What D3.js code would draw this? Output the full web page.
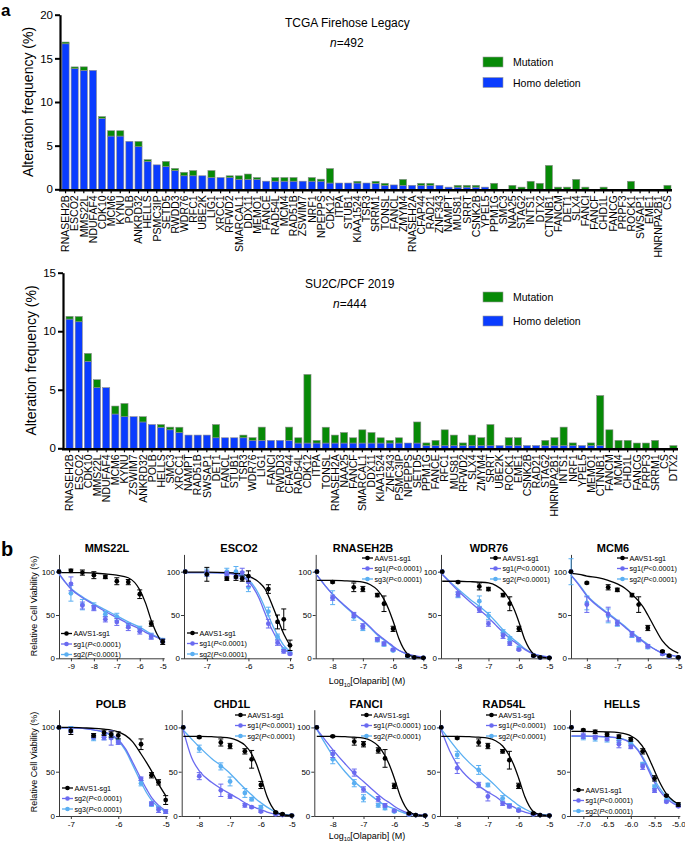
<!DOCTYPE html>
<html><head><meta charset="utf-8">
<script src="https://cdn.jsdelivr.net/npm/d3@7"></script>
<style>body{margin:0;background:#fff}svg{display:block}text{font-family:'Liberation Sans',Arial,Helvetica,sans-serif}</style>
</head><body><svg id="c" width="685" height="841"></svg>
<script>
// ---------------- Panel a data ----------------
const tcgaGenes = ["RNASEH2B","ESCO2","MMS22L","NDUFAF4","CDK10","MCM6","KYNU","POLB","ANKRD32","HELLS","PSMC3IP","SETD5","RWDD3","WDR76","RFC1","UBE2K","LIG1","XRCC1","RFWD2","SMARCAL1","DDX11","MEMO1","FANCE","RAD54L","MCM4","RAD51B","ZSWIM7","NRF1","NPEPPS","CDK12","ITPA","STUB1","KIAA1524","TSR3","SRRM1","TONSL","FANCL","ZMYM4","RNASEH2A","CFAP44","RAD21","ZNF343","NAMPT","MUS81","SRRT","CSNK2B","YPEL5","PPM1G","SMC3","NAA25","STAG2","INTS1","DTX2","CTNNB1","FANCM","DET1","SLX4","FANCI","FANCF","CHD1L","FANCG","PRPF3","ROCK1","SWSAP1","EME1","HNRNPA2B1","CS"];
const tcgaDeletion = [16.67,13.82,13.62,13.62,8.13,6.10,6.10,5.49,4.88,3.2,
  2.8,2.6,2.15,1.55,1.55,1.55,1.35,1.35,1.35,1.15,
  1.15,1.15,0.93,0.93,0.93,0.93,0.93,0.93,0.93,0.72,
  0.72,0.72,0.72,0.72,0.69,0.46,0.5,0.46,0.46,0.46,
  0.46,0.46,0.25,0.25,0.25,0.25,0.25,0,0,0,
  0,0,0,0,0,0,0,0,0,0,0,0,0,0,0,0,0];
const tcgaMutation = [0.2,0.2,0.41,0,0.2,0.61,0.61,0,0.61,0.2,
  0,0.6,0.25,0.4,0.6,0,0.8,0,0.2,0.4,
  0.6,0.2,0,0.42,0.42,0.42,0,0.42,0.23,1.66,
  0,0,0.2,0,0.23,0.23,0,0.68,0,0.23,
  0.23,0,0,0.21,0.21,0.21,0,0.69,0,0.46,
  0.25,0.92,0.69,2.74,0.25,0.25,1.14,0.25,0,0.25,
  0,0,0.92,0,0,0,0.46];
const su2cGenes = ["RNASEH2B","ESCO2","CDK10","MMS22L","NDUFAF4","MCM6","KYNU","ZSWIM7","ANKRD32","POLB","HELLS","SMC3","XRCC1","NAMPT","RAD51B","SWSAP1","DET1","FANCL","STUB1","TSR3","WDR76","LIG1","FANCI","RWDD3","CFAP44","RAD54L","CDK12","ITPA","TONSL","RNASEH2A","NAA25","FANCF","SMARCAL1","DDX11","KIAA1524","ZNF343","PSMC3IP","NPEPPS","SETD5","PPM1G","FANCE","RFC1","MUS81","RFWD2","SLX4","ZMYM4","SRRT","UBE2K","ROCK1","EME1","CSNK2B","RAD21","STAG2","HNRNPA2B1","INTS1","NRF1","YPEL5","MEMO1","CTNNB1","FANCM","MCM4","CHD1L","FANCG","PRPF3","SRRM1","CS","DTX2"];
const su2cDeletion = [11.04,10.81,7.43,5.18,5.18,2.93,2.70,2.70,2.25,2.03,
  1.80,1.58,1.35,1.13,1.13,1.13,0.90,0.90,0.90,0.90,
  0.68,0.68,0.68,0.68,0.68,0.45,0.45,0.45,0.45,0.45,
  0.45,0.45,0.45,0.45,0.45,0.45,0.45,0.45,0.45,0.23,
  0.23,0.23,0.23,0.23,0.23,0.23,0.23,0.23,0.23,0.23,
  0.23,0.23,0.23,0.23,0.23,0.23,0.23,0.23,0.23,0,
  0,0,0,0,0,0,0];
const su2cMutation = [0.23,0.45,0.68,0.68,0,0.68,1.13,0,0.45,0,
  0.23,0.23,0.45,0,0,0,1.13,0,0,0.23,
  0.23,1.13,0,0,1.13,0.45,5.86,0.23,1.35,0.68,
  0.90,0.45,1.13,0.90,0.45,0.23,0.45,0,1.80,0.23,
  0.45,1.35,0.90,0.23,0.90,0.68,1.80,0,0.68,0.68,
  0,0,0.45,0.68,1.58,0.23,0,0.23,4.28,1.58,
  0.68,0.68,0.45,0.45,0.68,0,0.23];
const tcgaTicks = [0,5,10,15,20];
const su2cTicks = [0,5,10,15];

// ---------------- Panel b data ----------------
const doseTitles = ["MMS22L","ESCO2","RNASEH2B","WDR76","MCM6","POLB","CHD1L","FANCI","RAD54L","HELLS"];
const sgALabels = ["sg1","sg1","sg1","sg1","sg1","sg2","sg1","sg1","sg1","sg1"];
const sgBLabels = ["sg2","sg2","sg3","sg2","sg2","sg3","sg2","sg2","sg2","sg2"];
const doseX = [
  [-9.52,-9,-8.5,-8,-7.5,-7,-6.5,-6,-5.5,-5],
  [-7.52,-7,-6.52,-6.3,-6.15,-6,-5.52,-5.3,-5.15,-5],
  [-8.52,-8,-7.3,-7,-6.52,-6.3,-6,-5.52,-5.3,-5],
  [-8.52,-8,-7.3,-7,-6.52,-6.3,-6,-5.52,-5.3,-5],
  [-8.52,-8,-7.3,-7,-6.52,-6.3,-6,-5.52,-5.3,-5],
  [-7.25,-7,-6.52,-6.3,-6.15,-6,-5.52,-5.3,-5.15,-5],
  [-8.52,-8,-7.3,-7,-6.52,-6.3,-6,-5.52,-5.3,-5],
  [-8.52,-8,-7.3,-7,-6.52,-6.3,-6,-5.52,-5.3,-5],
  [-8.52,-8,-7.3,-7,-6.52,-6.3,-6,-5.52,-5.3,-5],
  [-7.25,-7,-6.75,-6.5,-6.25,-6,-5.75,-5.5,-5.25,-5]];
const aavsMean = [
  [100,101,99,96,94,89,88,74,40,19],
  [100,97,92,94,92,95,80,42,45,15],
  [100,88,82,80,73,63,34,3,1,0.5],
  [100,88,83,80,73,63,34,3,1,0.5],
  [100,87,82,79,73,62,35,8,3,1],
  [100,96,91,94,92,91,81,46,38,18],
  [100,89,83,79,73,64,35,4,2,0.5],
  [100,90,84,81,74,65,34,3,1,0.5],
  [100,88,83,79,73,63,34,3,1,0.5],
  [100,97,95,92,89.5,86.5,73,42.5,23,13]];
const aavsErr = [
  [0,2,3,4,2,4,3,5,3,3],
  [0,8,2,4,3,6,5,8,12,6],
  [0,1,5,3,2,9,3,1,0.5,0.5],
  [0,1,4,2,2,8,3,1,0.5,0.5],
  [0,1,3,2,2,9,3,1,1,0.5],
  [0,4,2,3,3,4,6,3,3,5],
  [0,1,4,3,3,10,4,1,1,0.5],
  [0,1,4,3,3,10,3,1,0.5,0.5],
  [0,1,4,3,2,10,3,1,0.5,0.5],
  [0,1,2,2,2,2,3,3,1,2]];
const sgAMean = [
  [100,86,61,58,45,42,36,31,25,20],
  [100,98,97,95,99,88,40,18,8,5],
  [100,70,50,37,22,17,10,3,1,0.5],
  [100,74,56,40,26,17,10,3,1,0.5],
  [100,62,51,41,28,22,14,5,2,1],
  [100,97,90,89,88,83,42,14,7,5],
  [100,45,29,22,12,10,5,2,1,0.5],
  [100,70,49,30,19,12,6,2,1,0.5],
  [100,54,35,22,14,11,6,2,1,0.5],
  [100,90.6,89,87,81,78,55.6,28.6,16,11]];
const sgAErr = [
  [0,8,4,3,3,4,4,3,3,2],
  [0,3,3,3,5,5,5,3,2,1],
  [0,3,3,3,2,2,1,1,0.5,0.5],
  [0,3,3,3,3,2,1,1,0.5,0.5],
  [0,9,8,3,3,2,2,1,1,0.5],
  [0,3,3,3,8,2,2,2,3,2],
  [0,4,7,2,2,1,1,1,0.5,0.5],
  [0,4,4,3,3,2,1,1,0.5,0.5],
  [0,6,3,5,2,2,1,1,0.5,0.5],
  [0,3,2,2,4,2,3,2,1,1]];
const sgBMean = [
  [100,75,62,60,51,48,38,34,26,21],
  [100,99,100,100,96,82,54,25,10,6],
  [100,70,48,35,21,16,9,2.5,1,0.5],
  [100,73,66,49,30,22,12,3,1,0.5],
  [100,64,49,40,27,21,13,5,2,1],
  [100,98,88,89,90,84,37,13,9,5],
  [100,76,56,39,26,19,10,3,1.5,0.5],
  [100,64,37,20,12,9,5,1.5,1,0.5],
  [100,69,52,35,20,12,7.5,2,1,0.5],
  [100,89,87.6,86.5,85,82,58.6,33,18,12.4]];
const sgBErr = [
  [0,9,6,4,3,4,3,3,3,2],
  [0,4,4,6,4,5,5,3,2,1],
  [0,8,4,3,2,2,1,1,0.5,0.5],
  [0,3,6,4,3,3,2,1,0.5,0.5],
  [15,8,8,3,3,2,2,1,1,0.5],
  [0,3,3,3,3,3,3,2,2,2],
  [0,4,4,5,5,2,2,1,0.5,0.5],
  [0,5,4,4,2,2,1,1,0.5,0.5],
  [0,4,5,2,3,2,1,1,0.5,0.5],
  [0,3,3,3,2,2,2,2,1,1]];
// fitted curves at these doses
const curveX = [
  [-9.52,-9.25,-9,-8.5,-8,-7.5,-7,-6.5,-6,-5.75,-5.5,-5.25,-5],
  [-7.52,-7,-6.5,-6.25,-6,-5.75,-5.6,-5.5,-5.4,-5.3,-5.15,-5],
  [-8.52,-8.25,-8,-7.6,-7.3,-7,-6.75,-6.52,-6.3,-6.15,-6,-5.8,-5.52,-5.3,-5],
  [-8.52,-8.25,-8,-7.6,-7.3,-7,-6.75,-6.52,-6.3,-6.15,-6,-5.8,-5.52,-5.3,-5],
  [-8.52,-8.25,-8,-7.6,-7.3,-7,-6.75,-6.52,-6.3,-6.15,-6,-5.8,-5.52,-5.3,-5],
  [-7.25,-7,-6.75,-6.5,-6.3,-6.15,-6,-5.85,-5.7,-5.52,-5.4,-5.3,-5.15,-5],
  [-8.52,-8.25,-8,-7.6,-7.3,-7,-6.75,-6.52,-6.3,-6.15,-6,-5.8,-5.52,-5.3,-5],
  [-8.52,-8.25,-8,-7.6,-7.3,-7,-6.75,-6.52,-6.3,-6.15,-6,-5.8,-5.52,-5.3,-5],
  [-8.52,-8.25,-8,-7.6,-7.3,-7,-6.75,-6.52,-6.3,-6.15,-6,-5.8,-5.52,-5.3,-5],
  [-7.25,-7,-6.75,-6.5,-6.25,-6,-5.85,-5.7,-5.55,-5.4,-5.25,-5.1,-5]];
const aavsFit = [
  [99,99,99,99,98.5,97.5,96,93,79,64,44,28,17],
  [99.5,99.5,99,98,95,88,80,70,58,46,28,15],
  [90,90,90,89.5,89,88,85,79,68,57,43,22,5,1.5,0.3],
  [89,89,89,88.5,88,87,84,78,67,56,42,21,5,1.5,0.3],
  [98,97,95,93,90,86,81,74,66,59,50,37,20,12,6],
  [100,100,99.5,99,98,97,95,91,84,70,60,51,36,23],
  [90,90,90,89.5,89,88,85,80,70,59,44,22,5,1.5,0.3],
  [90,90,90,89.5,89,88,85,79,68,57,43,22,5,1.5,0.3],
  [90,90,90,89.5,89,88,85,79,68,57,43,22,5,1.5,0.3],
  [95.5,95.5,95.3,95,94,90.5,85,74,57,39,25,17,14]];
const sgAFit = [
  [98,88,80,70,62,54,47,40,34,30,27,24,21],
  [99,99,98,96,89,70,52,40,30,21,11,6],
  [96,84,74,61,52,44,36,28,22,18,14,9,5,3,1.5],
  [97,87,78,65,56,47,38,30,23,19,15,10,5,3,1.5],
  [96,84,72,59,51,43,36,29,23,19,15,11,6,4,2],
  [99.5,99.5,99,97,95,92,86,76,61,42,30,21,12,6],
  [97,66,51,38,31,25,20,15,11,9,7,4.5,2,1,0.5],
  [98,86,75,59,48,39,31,24,18,15,11,7,3,1.5,0.8],
  [97,74,58,42,34,27,22,16,12,10,7,4.5,2,1,0.5],
  [90.5,90.5,90,89.5,88,82,74,60,43,29,20,14,12]];
const sgBFit = [
  [97,88,81,71,63,56,49,42,36,32,28,25,22],
  [99,99,98.5,97,91,74,58,47,36,27,15,8],
  [96,84,74,60,51,43,35,27,21,17,13,9,4.5,2.5,1.2],
  [97,88,80,68,60,51,42,33,26,21,17,11,5.5,3,1.5],
  [96,85,73,60,52,44,37,30,24,20,16,11,6,4,2],
  [99.5,99.5,99,97,94.5,91,85,74,58,38,26,18,10,5],
  [97,87,78,65,57,48,39,31,24,19,15,10,4.5,2,1],
  [98,82,68,50,39,30,23,17,12,10,8,5,2,1,0.5],
  [98,86,75,60,51,42,34,26,20,16,12,8,3.5,2,1],
  [90,90,89.8,89.3,88,83,75,62,46,32,22,16,13]];
const doseXTicks = [[-9,-8,-7,-6,-5],[-7,-6,-5],[-8,-7,-6,-5],[-8,-7,-6,-5],[-8,-7,-6,-5],
  [-7,-6,-5],[-8,-7,-6,-5],[-8,-7,-6,-5],[-8,-7,-6,-5],[-7,-6.5,-6,-5.5,-5]];
const viabilityTicks = [0,50,100];

// ---------------- drawing ----------------
const svg = d3.select("#c");
const GREEN = "#078a07", BLUE = "#0a3cff";
const FF = "'Liberation Sans',Arial,sans-serif";

function barChart(genes, del, mut, ticks, L) {
  const g = svg.append("g");
  const x = d3.scaleBand().domain(genes).range([L.x0, L.x1]).paddingInner(0.22).paddingOuter(0.11);
  const y = d3.scaleLinear().domain([0, ticks[ticks.length - 1]]).range([L.yBase, L.yTop]);
  g.selectAll("rect.d").data(genes).join("rect")
    .attr("x", d => x(d)).attr("width", x.bandwidth())
    .attr("y", (d, i) => y(del[i])).attr("height", (d, i) => y(0) - y(del[i]))
    .attr("fill", BLUE).attr("stroke", "#8c8c8c").attr("stroke-width", 0.6);
  g.selectAll("rect.m").data(genes).join("rect")
    .attr("x", d => x(d)).attr("width", x.bandwidth())
    .attr("y", (d, i) => y(del[i] + mut[i])).attr("height", (d, i) => y(del[i]) - y(del[i] + mut[i]))
    .attr("fill", GREEN).attr("stroke", (d, i) => mut[i] > 0 ? "#8c8c8c" : "none").attr("stroke-width", 0.6);
  const xa = g.append("g").attr("transform", `translate(0,${L.yBase})`)
    .call(d3.axisBottom(x).tickSize(4).tickSizeOuter(0));
  xa.select(".domain").remove();
  xa.selectAll(".tick line").attr("stroke", "#000").attr("stroke-width", 1.2);
  xa.selectAll(".tick text").attr("transform", "rotate(-90)").attr("text-anchor", "end")
    .attr("x", -6).attr("y", 0).attr("dy", "0.36em").style("font-size", "10.5px").attr("fill", "#000")
    .style("font-family", FF);
  g.append("line").attr("x1", L.axisX - 1).attr("x2", L.x1).attr("y1", L.yBase + 1).attr("y2", L.yBase + 1)
    .attr("stroke", "#000").attr("stroke-width", 2.4);
  const ya = g.append("g").attr("transform", `translate(${L.axisX},0)`)
    .call(d3.axisLeft(y).tickValues(ticks).tickSize(5).tickSizeOuter(0));
  ya.select(".domain").attr("stroke-width", 2.2);
  ya.selectAll(".tick line").attr("stroke-width", 2);
  ya.selectAll(".tick text").style("font-size", "11.5px").style("font-family", FF).attr("x", -7);
  g.append("text").attr("transform", `translate(${L.axisX - 27},${(L.yBase + L.yTop) / 2}) rotate(-90)`)
    .attr("text-anchor", "middle").style("font-size", "14px").text("Alteration frequency (%)");
  g.append("text").attr("x", L.titleX).attr("y", L.titleY).style("font-size", "12px").text(L.title);
  const n = g.append("text").attr("x", L.nX).attr("y", L.titleY + 20).style("font-size", "12px");
  n.append("tspan").style("font-style", "italic").text("n");
  n.append("tspan").text("=" + L.n);
  [["Mutation", GREEN], ["Homo deletion", BLUE]].forEach((e, k) => {
    g.append("rect").attr("x", 483).attr("y", L.legY + k * L.legStep).attr("width", 20).attr("height", 10)
      .attr("fill", e[1]).attr("stroke", "#999").attr("stroke-width", 0.6);
    g.append("text").attr("x", 513).attr("y", L.legY + k * L.legStep + 9).style("font-size", "10.5px").text(e[0]);
  });
}

barChart(tcgaGenes, tcgaDeletion, tcgaMutation, tcgaTicks,
  {x0: 61, x1: 672, yBase: 189.3, yTop: 14.7, axisX: 60, title: "TCGA Firehose Legacy", titleX: 285, titleY: 27, nX: 330, n: "492", legY: 57, legStep: 20.5});
barChart(su2cGenes, su2cDeletion, su2cMutation, su2cTicks,
  {x0: 65, x1: 678, yBase: 448.3, yTop: 272.7, axisX: 63, title: "SU2C/PCF 2019", titleX: 305, titleY: 288, nX: 333, n: "444", legY: 292, legStep: 24});

svg.append("text").attr("x", 1).attr("y", 16).style("font-size", "17px").style("font-weight", "bold").text("a");
svg.append("text").attr("x", 1).attr("y", 556).style("font-size", "20px").style("font-weight", "bold").text("b");

const doseLayout = [
  {xmin: -9.52, left: 59, right: 162.7, row: 0, tx: 107, lx: 61, ly: 633.5},
  {xmin: -7.55, left: 184, right: 290, row: 0, tx: 239, lx: 187, ly: 633},
  {xmin: -8.56, left: 315.7, right: 423.3, row: 0, tx: 363, lx: 362, ly: 558},
  {xmin: -8.56, left: 441, right: 549.3, row: 0, tx: 489, lx: 490, ly: 558},
  {xmin: -8.52, left: 571, right: 678.3, row: 0, tx: 613, lx: 617, ly: 558},
  {xmin: -7.25, left: 59, right: 165.7, row: 1, tx: 111, lx: 62, ly: 788},
  {xmin: -8.57, left: 181.7, right: 291.7, row: 1, tx: 232, lx: 235, ly: 715},
  {xmin: -8.6, left: 314.3, right: 425, row: 1, tx: 366, lx: 361, ly: 715},
  {xmin: -8.56, left: 440, right: 549.3, row: 1, tx: 504, lx: 486, ly: 715},
  {xmin: -7.28, left: 570, right: 678.3, row: 1, tx: 622, lx: 573, ly: 790}];
const rows = [{y0: 658.3, yTop: 554.4, title: 552, xl: 684, mid: 606}, {y0: 816, yTop: 709.7, title: 708, xl: 838.5, mid: 762}];
const COLS = {aavs: "#000000", a: "#6a6af0", b: "#5aaff2"};
const AX = "#3a3a3a";

doseTitles.forEach((title, i) => {
  const L = doseLayout[i], R = rows[L.row];
  const g = svg.append("g");
  const x = d3.scaleLinear().domain([L.xmin, -5]).range([L.left, L.right]);
  const y = d3.scaleLinear().domain([0, 120]).range([R.y0, R.yTop]);
  const xa = g.append("g").attr("transform", `translate(0,${R.y0})`)
    .call(d3.axisBottom(x).tickValues(doseXTicks[i]).tickSize(3).tickSizeOuter(0)
      .tickFormat(v => (i === 9 ? d3.format(".1f")(v) : String(v)).replace("\u2212", "-")));
  xa.select(".domain").attr("stroke", AX).attr("d", `M${L.left},0.5H${L.right + 2}`);
  xa.selectAll(".tick line").attr("stroke", AX);
  xa.selectAll(".tick text").style("font-size", "8px").attr("y", 5).style("font-family", FF);
  const ya = g.append("g").attr("transform", `translate(${L.left},0)`)
    .call(d3.axisLeft(y).tickValues(viabilityTicks).tickSize(3).tickSizeOuter(0));
  ya.select(".domain").attr("stroke", AX);
  ya.selectAll(".tick line").attr("stroke", AX);
  ya.selectAll(".tick text").style("font-size", "8px").attr("x", -4).style("font-family", FF);
  g.append("text").attr("x", L.tx).attr("y", R.title).attr("text-anchor", "middle")
    .style("font-size", "11px").style("font-weight", "bold").text(title);
  const series = [
    {m: sgBMean[i], e: sgBErr[i], f: sgBFit[i], c: COLS.b},
    {m: sgAMean[i], e: sgAErr[i], f: sgAFit[i], c: COLS.a},
    {m: aavsMean[i], e: aavsErr[i], f: aavsFit[i], c: COLS.aavs}];
  const line = d3.line().x(d => x(d[0])).y(d => y(d[1])).curve(d3.curveMonotoneX);
  series.forEach(s => {
    g.append("path").datum(curveX[i].map((v, k) => [v, s.f[k]])).attr("d", line)
      .attr("fill", "none").attr("stroke", s.c).attr("stroke-width", 1.3);
  });
  series.forEach(s => {
    doseX[i].forEach((v, k) => {
      if (s.e[k] > 0) {
        const cx = x(v), y1 = y(s.m[k] - s.e[k]), y2 = y(s.m[k] + s.e[k]);
        g.append("line").attr("x1", cx).attr("x2", cx).attr("y1", y1).attr("y2", y2).attr("stroke", s.c).attr("stroke-width", 1);
        g.append("line").attr("x1", cx - 2.5).attr("x2", cx + 2.5).attr("y1", y1).attr("y2", y1).attr("stroke", s.c).attr("stroke-width", 1);
        g.append("line").attr("x1", cx - 2.5).attr("x2", cx + 2.5).attr("y1", y2).attr("y2", y2).attr("stroke", s.c).attr("stroke-width", 1);
      }
    });
    g.selectAll(null).data(doseX[i]).join("circle")
      .attr("cx", v => x(v)).attr("cy", (v, k) => y(s.m[k])).attr("r", 2.4).attr("fill", s.c);
  });
  const items = [["AAVS1-sg1", COLS.aavs, null], [sgALabels[i], COLS.a, true], [sgBLabels[i], COLS.b, true]];
  items.forEach((it, k) => {
    const yy = L.ly + k * 10.5;
    g.append("line").attr("x1", L.lx).attr("x2", L.lx + 11).attr("y1", yy).attr("y2", yy).attr("stroke", it[1]).attr("stroke-width", 1.3);
    g.append("circle").attr("cx", L.lx + 5.5).attr("cy", yy).attr("r", 2.3).attr("fill", it[1]);
    const t = g.append("text").attr("x", L.lx + 12.5).attr("y", yy + 2.6).style("font-size", "7.2px");
    if (it[2]) {
      t.append("tspan").text(it[0] + "(");
      t.append("tspan").style("font-style", "italic").text("P");
      t.append("tspan").text("<0.0001)");
    } else t.text(it[0]);
  });
});

rows.forEach(R => {
  svg.append("text").attr("transform", `translate(37,${R.mid}) rotate(-90)`).attr("text-anchor", "middle")
    .style("font-size", "9px").text("Relative Cell Viability (%)");
  const t = svg.append("text").attr("x", 367).attr("y", R.xl).attr("text-anchor", "middle").style("font-size", "9px");
  t.append("tspan").text("Log");
  t.append("tspan").attr("dy", 2.5).style("font-size", "6px").text("10");
  t.append("tspan").attr("dy", -2.5).text("[Olaparib] (M)");
});
</script></body></html>
